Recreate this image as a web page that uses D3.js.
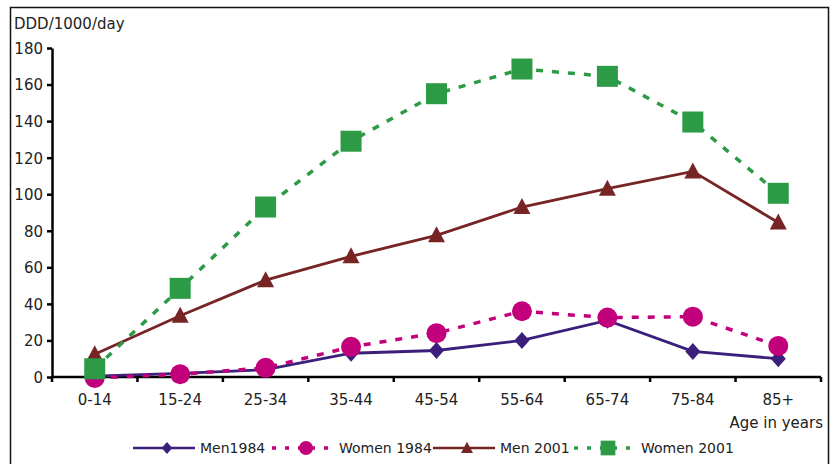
<!DOCTYPE html>
<html lang="en">
<head>
<meta charset="utf-8">
<title>DDD per age group</title>
<script src="https://d3js.org/d3.v7.min.js"></script>
<style>
  body { margin: 0; background: #fff; }
  text { font-family: "DejaVu Sans", sans-serif; fill: #222; }
  .axis path, .axis line { stroke: #000; stroke-width: 2.5px; }
  .axis text { font-size: 15px; }
</style>
</head>
<body>
<div id="vis"></div>
<script>
const ageGroups = ["0-14", "15-24", "25-34", "35-44", "45-54", "55-64", "65-74", "75-84", "85+"];
const men1984   = [0.5, 2, 4, 13, 14.5, 20, 31, 14, 10];
const women1984 = [-0.5, 1.5, 5, 16.5, 24, 36, 32.5, 33, 17];
const men2001   = [12.5, 33.5, 53, 66, 77.5, 93, 103, 112.5, 84.5];
const women2001 = [4.5, 48.5, 93, 129, 155, 168.5, 164.5, 139.5, 100.5];
const yTicks = [0, 20, 40, 60, 80, 100, 120, 140, 160, 180];

const series = [
  {name: "Men1984", values: men1984, color: "#3b1f7a", dash: null, marker: "diamond"},
  {name: "Women 1984", values: women1984, color: "#c2007b", dash: "7,9", marker: "circle"},
  {name: "Men 2001", values: men2001, color: "#772425", dash: null, marker: "triangle"},
  {name: "Women 2001", values: women2001, color: "#2d9a45", dash: "7,9", marker: "square"}
];

const width = 837, height = 464;
const margin = {top: 48, right: 16, bottom: 87, left: 52};

const svg = d3.select("#vis").append("svg")
  .attr("width", width).attr("height", height);

// outer frame
svg.append("rect")
  .attr("x", 10.5).attr("y", 7.5)
  .attr("width", 818).attr("height", 470)
  .attr("fill", "none").attr("stroke", "#111").attr("stroke-width", 1.5);

const x = d3.scaleBand().domain(ageGroups)
  .range([margin.left, width - margin.right]);
const y = d3.scaleLinear().domain([0, 180])
  .range([height - margin.bottom, margin.top]);

// x axis: ticks at band edges
const xAxis = svg.append("g").attr("class", "axis")
  .attr("transform", `translate(0,${y(0)})`)
  .call(d3.axisBottom(x).tickSize(0).tickPadding(17));
xAxis.select(".domain").remove();
xAxis.append("line")
  .attr("x1", x.range()[0]).attr("x2", x.range()[1]);
xAxis.selectAll(".edge")
  .data(ageGroups.map(d => x(d)).concat([x.range()[1]]))
  .enter().append("line")
  .attr("x1", d => d).attr("x2", d => d)
  .attr("y1", 0).attr("y2", 5);

const yAxis = svg.append("g").attr("class", "axis")
  .attr("transform", `translate(${margin.left},0)`)
  .call(d3.axisLeft(y).tickValues(yTicks).tickSize(5).tickPadding(4).tickSizeOuter(0));
yAxis.selectAll("text").attr("dy", "0.36em");

svg.append("text")
  .attr("x", 14).attr("y", 29)
  .style("font-size", "15px")
  .text("DDD/1000/day");

svg.append("text")
  .attr("x", 823).attr("y", 428)
  .attr("text-anchor", "end")
  .style("font-size", "15px")
  .text("Age in years");

const line = d3.line()
  .x((d, i) => x(ageGroups[i]) + x.bandwidth() / 2)
  .y(d => y(d));

function drawMarker(g, type, color) {
  if (type === "diamond") {
    g.append("path").attr("d", "M0,-8.5L7.5,0L0,8.5L-7.5,0Z").attr("fill", color);
  } else if (type === "circle") {
    g.append("circle").attr("r", 10).attr("fill", color);
  } else if (type === "triangle") {
    g.append("path").attr("d", "M0,-9L8.5,7L-8.5,7Z").attr("fill", color);
  } else {
    g.append("rect").attr("x", -10.5).attr("y", -10.5).attr("width", 21).attr("height", 21).attr("fill", color);
  }
}

series.forEach(s => {
  const g = svg.append("g");
  g.append("path")
    .datum(s.values)
    .attr("d", line)
    .attr("fill", "none")
    .attr("stroke", s.color)
    .attr("stroke-width", s.dash ? 3.5 : 2.8)
    .attr("stroke-dasharray", s.dash);
  g.selectAll(".m")
    .data(s.values)
    .enter().append("g")
    .attr("transform", (d, i) => `translate(${x(ageGroups[i]) + x.bandwidth() / 2},${y(d)})`)
    .each(function () { drawMarker(d3.select(this), s.marker, s.color); });
});

// legend
const legendX = [133, 272, 433, 574];
series.forEach((s, i) => {
  const g = svg.append("g").attr("transform", `translate(${legendX[i]},448)`);
  g.append("line")
    .attr("x1", 0).attr("x2", 62)
    .attr("stroke", s.color)
    .attr("stroke-width", s.dash ? 3.5 : 2.5)
    .attr("stroke-dasharray", s.dash ? "4,9" : null);
  const mg = g.append("g").attr("transform", "translate(34,0) scale(0.7)");
  drawMarker(mg, s.marker, s.color);
  g.append("text")
    .attr("x", 67).attr("y", 0).attr("dy", "0.36em")
    .style("font-size", "14px")
    .text(s.name);
});
</script>
</body>
</html>
